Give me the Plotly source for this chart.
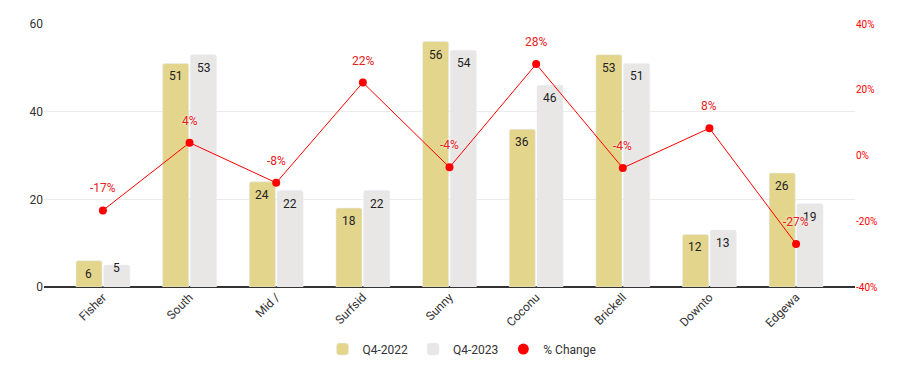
import plotly.graph_objects as go

categories = ["Fisher", "South", "Mid /", "Surfsid", "Sunny", "Coconu", "Brickell", "Downto", "Edgewa"]
q4_2022 = [6, 51, 24, 18, 56, 36, 53, 12, 26]
q4_2023 = [5, 53, 22, 22, 54, 46, 51, 13, 19]
pct_change = [-16.7, 3.9, -8.3, 22.2, -3.6, 27.8, -3.8, 8.3, -26.9]
pct_labels = ["-17%", "4%", "-8%", "22%", "-4%", "28%", "-4%", "8%", "-27%"]
pct_ticks = [-40, -20, 0, 20, 40]
pct_tick_labels = ["-40%", "-20%", "0%", "20%", "40%"]

gold = "#E3D68C"
grey = "#E8E7E6"
red = "#FF0000"

fig = go.Figure()
fig.add_trace(go.Bar(x=categories, y=q4_2022, name="Q4-2022", marker_color=gold))
fig.add_trace(go.Bar(x=categories, y=q4_2023, name="Q4-2023", marker_color=grey))
fig.add_trace(go.Scatter(
    x=categories, y=pct_change, name="% Change", yaxis="y2",
    mode="lines+markers",
    line=dict(color=red, width=1),
    marker=dict(color=red, size=8),
    showlegend=False,
))
fig.add_trace(go.Scatter(
    x=[None], y=[None], name="% Change", yaxis="y2", mode="markers",
    marker=dict(color=red, size=11),
))

# bar value labels, placed just inside the top of each bar
for series, dx in ((q4_2022, -14), (q4_2023, 14)):
    for c, v in zip(categories, series):
        fig.add_annotation(
            x=c, y=v, xref="x", yref="y", text=str(v), showarrow=False,
            xshift=dx, yshift=(-13 if v >= 6 else -3),
            font=dict(color="#222222", size=12),
        )

for c, v, t in zip(categories, pct_change, pct_labels):
    fig.add_annotation(
        x=c, y=v, xref="x", yref="y2", text=t, showarrow=False, yshift=22,
        font=dict(color="#E8211B", size=12, shadow="0px 0px 3px white"),
    )

fig.update_layout(
    width=924, height=371,
    margin=dict(l=44, r=69, t=24, b=84),
    paper_bgcolor="white", plot_bgcolor="white",
    font=dict(family="Roboto, Arial, sans-serif", size=12, color="#333333"),
    barmode="group", bargap=0.36, bargroupgap=0.06, barcornerradius=2,
    showlegend=True,
    legend=dict(orientation="h", x=0.5, xanchor="center", xref="container",
                y=0.059, yanchor="middle", yref="container",
                font=dict(size=12, color="#333333"), itemwidth=30),
    xaxis=dict(range=[-0.68, 8.68], tickangle=-45, showgrid=False, automargin=False,
               tickfont=dict(size=12, color="#333333"), ticks="", showline=False),
    yaxis=dict(range=[0, 60], tickvals=[0, 20, 40, 60], showgrid=True, gridcolor="#EBEBEB",
               zeroline=True, zerolinecolor="#333333", zerolinewidth=1.5, automargin=False,
               tickfont=dict(size=12, color="#333333"), ticks="", ticklen=0),
    yaxis2=dict(range=[-40, 40], tickvals=pct_ticks, ticktext=pct_tick_labels,
                overlaying="y", side="right", showgrid=False, zeroline=False, automargin=False,
                tickfont=dict(size=10, color=red)),
)

fig.write_html("out.html", config={"displayModeBar": False},
               post_script="document.body.style.margin='0';document.body.style.overflow='hidden';")
